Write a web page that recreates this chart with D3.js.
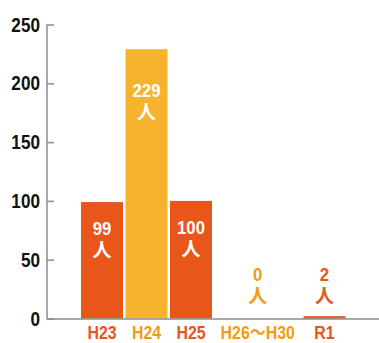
<!DOCTYPE html>
<html>
<head>
<meta charset="utf-8">
<script src="https://cdn.jsdelivr.net/npm/d3@7"></script>
<style>
  html, body { margin: 0; padding: 0; background: #fff; }
  svg { display: block; }
  text { font-family: "Liberation Sans", "Noto Sans CJK JP", Arial, sans-serif; font-weight: bold; }
  .unit { font-family: "Noto Sans CJK JP", sans-serif; font-weight: bold; }
</style>
</head>
<body>
<script>
// Number of people per period
const categories = ["H23", "H24", "H25", "H26～H30", "R1"];
const values = [99, 229, 100, 0, 2];
// How many slots each period occupies along the x axis (H26～H30 covers five years)
const slotSpans = [1, 1, 1, 2, 1];
const yTicks = [0, 50, 100, 150, 200, 250];
const unitLabel = "人";

const DARK = "#E8561A";
const GOLD = "#F6B32E";
const GOLD_TEXT = "#F49A12";
const barColors = [DARK, GOLD, DARK, GOLD, DARK];
const textColors = [DARK, GOLD_TEXT, DARK, GOLD_TEXT, DARK];

const W = 379, H = 343;
const svg = d3.select("body").append("svg").attr("width", W).attr("height", H);

const axisX = 47, baseY = 318.5;
const y = d3.scaleLinear().domain([0, 250]).range([baseY, 24.5]);

// Slot-based band scale; each category is centred on the slots it spans
const totalSlots = d3.sum(slotSpans);
const slots = d3.range(totalSlots);
const xs = d3.scaleBand().domain(slots).range([79.75, 346.75])
  .paddingInner(0.056).paddingOuter(0.028);
const starts = d3.cumsum([0].concat(slotSpans)).slice(0, -1);
const data = categories.map((c, i) => {
  const first = starts[i], last = starts[i] + slotSpans[i] - 1;
  const cx = (xs(first) + xs(last) + xs.bandwidth()) / 2;
  return { cat: c, value: values[i], cx, i };
});
const bw = xs.bandwidth();

// Bars
svg.append("g").selectAll("rect").data(data).join("rect")
  .attr("x", d => d.cx - bw / 2)
  .attr("width", bw)
  .attr("y", d => y(d.value))
  .attr("height", d => baseY - y(d.value))
  .attr("fill", d => barColors[d.i]);

// Y axis with inward ticks
const yAxis = d3.axisRight(y).tickValues(yTicks).tickSize(7).tickFormat("");
const gy = svg.append("g").attr("transform", `translate(${axisX},0)`).call(yAxis);
gy.select(".domain").remove();
gy.selectAll(".tick line").attr("stroke", "#8c8c8c").attr("stroke-width", 1.5);
svg.append("line").attr("x1", axisX).attr("x2", axisX)
  .attr("y1", y(250)).attr("y2", baseY + 1)
  .attr("stroke", "#8c8c8c").attr("stroke-width", 1.5);
svg.append("g").selectAll("text").data(yTicks).join("text")
  .attr("transform", d => `translate(40,${y(d) + 7}) scale(0.88,1)`)
  .attr("text-anchor", "end")
  .attr("font-size", 19.5)
  .attr("fill", "#111")
  .text(d => d);

// Baseline
svg.append("line").attr("x1", axisX).attr("x2", W)
  .attr("y1", baseY + 0.5).attr("y2", baseY + 0.5)
  .attr("stroke", "#8c8c8c").attr("stroke-width", 1.5);

// Category labels
svg.append("g").selectAll("text").data(data).join("text")
  .attr("transform", d => `translate(${d.cx},339) scale(0.86,1)`)
  .attr("text-anchor", "middle")
  .attr("font-size", 18.5)
  .attr("fill", d => textColors[d.i])
  .text(d => d.cat);

// Value labels: inside tall bars, above short ones
function labelTop(d) {
  const top = y(d.value);
  if (baseY - top < 40) return y(0) - 51;
  return top + (d.value > 200 ? 35 : 20);
}
const vl = svg.append("g").selectAll("g").data(data).join("g")
  .attr("transform", d => `translate(${d.cx},${labelTop(d)})`)
  .attr("fill", d => (baseY - y(d.value) < 40) ? textColors[d.i] : "#fff");
vl.append("text")
  .attr("transform", "translate(0,13) scale(0.93,1)")
  .attr("text-anchor", "middle")
  .attr("font-size", 18)
  .text(d => d.value);
vl.append("text").attr("class", "unit").attr("y", 35).attr("text-anchor", "middle")
  .attr("font-size", 19)
  .text(unitLabel);
</script>
</body>
</html>
